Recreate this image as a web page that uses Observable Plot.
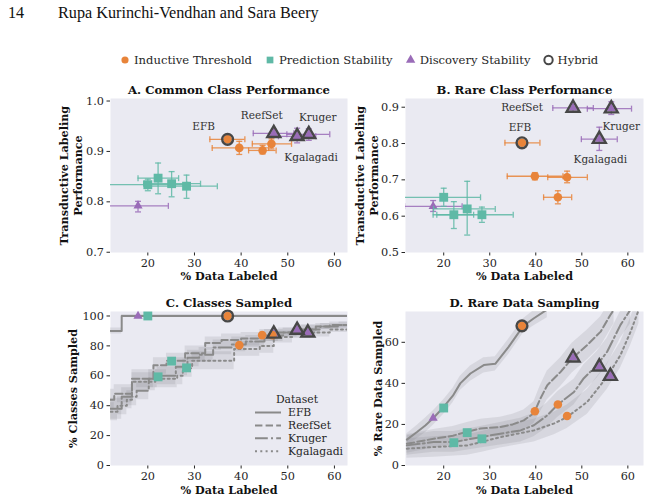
<!DOCTYPE html>
<html><head><meta charset="utf-8">
<script src="https://cdn.jsdelivr.net/npm/d3@7"></script>
<script src="https://cdn.jsdelivr.net/npm/@observablehq/plot@0.6"></script>
<style>
body{margin:0;background:#fff;}
#root{position:relative;width:649px;height:500px;overflow:hidden;font-family:"DejaVu Serif",serif;background:#fff;}
.hdr{position:absolute;font-family:"Liberation Serif",serif;font-size:16.2px;color:#111;white-space:nowrap;}
</style></head><body><div id="root"></div>
<script>
// ---------- categories / labels ----------
const datasets = ["EFB", "ReefSet", "Kruger", "Kgalagadi"];
const methodNames = ["Inductive Threshold", "Prediction Stability", "Discovery Stability", "Hybrid"];
const hybridSymbols = ["circle", "triangle", "triangle", "triangle"];
const xTicks = [20, 30, 40, 50, 60];
const commonPerfTicks = [0.7, 0.8, 0.9, 1.0];
const rarePerfTicks = [0.5, 0.6, 0.7, 0.8, 0.9];
const classTicks = [0, 20, 40, 60, 80, 100];
const rareDataTicks = [0, 20, 40, 60];

// ---------- A. Common class performance (order: EFB, ReefSet, Kruger, Kgalagadi) ----------
const aITx = [37.1, 39.6, 44.6, 46.5], aITxlo = [33.3, 33.8, 41.6, 42.4], aITxhi = [40.8, 45.9, 47.5, 50.8];
const aITy = [0.924, 0.907, 0.902, 0.915], aITylo = [0.918, 0.894, 0.895, 0.905], aITyhi = [0.930, 0.920, 0.912, 0.925];
const aPSx = [20.0, 25.1, 22.2, 28.3], aPSxlo = [10.0, 19.1, 17.9, 19.5], aPSxhi = [28.5, 31.3, 26.6, 34.9];
const aPSy = [0.834, 0.836, 0.847, 0.831], aPSylo = [0.822, 0.810, 0.816, 0.807], aPSyhi = [0.845, 0.860, 0.877, 0.853];
const aDSx = [17.9, 47.0, 54.5, 52.0], aDSxlo = [11.5, 42.6, 49.8, 48.0], aDSxhi = [24.4, 51.3, 59.0, 56.0];
const aDSy = [0.792, 0.936, 0.934, 0.930], aDSylo = [0.780, 0.928, 0.922, 0.917], aDSyhi = [0.801, 0.944, 0.945, 0.946];
const aHx = [37.1, 47.0, 54.5, 52.0], aHy = [0.924, 0.936, 0.934, 0.930];

// ---------- B. Rare class performance ----------
const bITx = [37.0, 39.8, 44.8, 46.8], bITxlo = [33.3, 33.8, 41.7, 42.6], bITxhi = [40.9, 45.9, 47.8, 51.2];
const bITy = [0.802, 0.710, 0.652, 0.707], bITylo = [0.795, 0.700, 0.634, 0.692], bITyhi = [0.809, 0.720, 0.670, 0.724];
const bPSx = [20.0, 25.1, 22.2, 28.3], bPSxlo = [10.0, 17.8, 18.5, 17.7], bPSxhi = [28.0, 31.2, 26.5, 35.1];
const bPSy = [0.652, 0.620, 0.604, 0.604], bPSylo = [0.627, 0.548, 0.566, 0.583], bPSyhi = [0.677, 0.696, 0.640, 0.625];
const bDSx = [17.7, 48.1, 56.4, 53.8], bDSxlo = [11.5, 43.7, 51.2, 49.9], bDSxhi = [24.0, 52.5, 60.8, 57.7];
const bDSy = [0.627, 0.898, 0.896, 0.812], bDSylo = [0.613, 0.888, 0.880, 0.781], bDSyhi = [0.643, 0.908, 0.915, 0.845];
const bHx = [37.0, 48.1, 56.4, 53.8], bHy = [0.802, 0.898, 0.896, 0.812];

// ---------- C. Classes sampled (step curves + bands) ----------
const cEFBx = [12, 14.4, 63], cEFBy = [90, 100, 100], cEFBlo = [88, 99, 99], cEFBhi = [92, 101, 101];
const cReefx = [12, 12.8, 16.6, 21.2, 24, 28, 32.3, 35.8, 40, 44, 48, 52, 56, 59, 63];
const cReefy = [44, 48, 58, 67, 70, 75, 82, 84, 85, 87, 89, 91, 93, 94, 95];
const cReeflo = [37, 42, 52, 61, 64, 69, 77, 79, 80, 83, 86, 88, 91, 92, 93];
const cReefhi = [51, 54, 64, 72, 75, 80, 86, 88, 89, 91, 92, 94, 95, 96, 97];
const cKrux = [12, 14.4, 17.6, 20.2, 22, 26, 28.5, 31, 34, 38, 41, 45, 49, 53, 57, 61, 63];
const cKruy = [38, 46, 50, 58, 60, 66, 72, 74, 79, 81, 83, 87, 89, 91, 93, 94, 94];
const cKrulo = [31, 40, 44, 52, 54, 60, 66, 69, 74, 76, 79, 83, 86, 88, 91, 92, 92];
const cKruhi = [45, 52, 56, 64, 66, 72, 77, 79, 84, 86, 87, 91, 92, 94, 95, 96, 96];
const cKgax = [12, 13.5, 15.5, 16.6, 21.6, 26.3, 27.5, 29.5, 37.2, 38.5, 44, 47, 51, 55, 59, 63];
const cKgay = [36, 40, 44, 56, 58, 60, 65, 70, 70, 78, 80, 86, 88, 89, 91, 93];
const cKgalo = [30, 34, 38, 50, 52, 54, 59, 64, 64, 73, 75, 82, 85, 86, 89, 91];
const cKgahi = [42, 46, 50, 62, 64, 66, 71, 76, 76, 83, 85, 90, 91, 92, 93, 95];
const cITx = [37.1, 39.6, 44.5, 46.7], cITy = [100, 80.5, 87.2, 87.2];
const cPSx = [20.0, 25.1, 22.2, 28.3], cPSy = [100, 69.8, 59.3, 65.3];
const cDSx = [17.9, 47.0, 54.3, 52.0], cDSy = [100, 88.0, 88.8, 90.6];
const cHx = [37.1, 47.0, 54.3, 52.0], cHy = [100, 88.0, 88.8, 90.6];

// ---------- D. Rare data sampling (curves + bands) ----------
const dEFBx = [12, 14.2, 16, 17.7, 20, 22, 23.6, 25.8, 28.7, 31.2, 34.1, 37.3, 39.6, 42.5];
const dEFBy = [12.6, 16.3, 19.5, 23, 28.5, 34, 40, 44.8, 48.9, 49.5, 57.8, 68, 71.7, 76];
const dEFBlo = [9.5, 13, 16, 19.5, 25, 30.5, 36.5, 41, 45, 46, 54, 64.5, 68, 72];
const dEFBhi = [15.5, 19.5, 23, 26.5, 32, 37.5, 43.5, 48.5, 52.5, 53, 61.5, 71.5, 75.5, 80];
const dReefx = [12, 17.8, 22, 25.1, 28, 32.3, 35, 37.4, 39.6, 41, 42.5, 45.4, 47.9, 51.2, 54.1, 56.2, 57];
const dReefy = [10.6, 13, 14.5, 16.5, 18, 18.7, 20, 22, 25.5, 32.6, 39.1, 45.6, 52.2, 58.7, 65.2, 73.3, 76];
const dReeflo = [6, 8.5, 10, 12, 13.5, 14, 15, 17, 20.5, 26, 32, 38.5, 45, 51.5, 58, 66, 69];
const dReefhi = [15, 17.5, 19, 21, 22.5, 23.5, 25, 27, 31, 39, 46, 52.5, 59.5, 66, 72.5, 80, 83];
const dKrux = [12, 17.8, 22.2, 28, 32.3, 36.7, 39.6, 42.5, 44.8, 48.3, 50.4, 53.3, 55.5, 58.4, 60.6];
const dKruy = [9.8, 11.4, 11.4, 13.8, 15.5, 17.1, 19.6, 24.4, 29.7, 35.8, 42.4, 48.9, 55.4, 68.5, 76];
const dKrulo = [5, 6.5, 6.5, 8.5, 10, 11.5, 14, 18.5, 23.5, 29.5, 36, 42.5, 49, 62, 69];
const dKruhi = [14.5, 16.5, 16.5, 19, 21, 23, 25.5, 30.5, 36, 42, 49, 55.5, 62, 75, 83];
const dKgax = [12, 17.8, 25.1, 28.3, 32.3, 39.6, 44, 46.8, 51.2, 55.5, 58.4, 60.6, 62.4];
const dKgay = [8.2, 9, 9.8, 11.5, 13.8, 17.1, 20.5, 23.6, 31, 43.2, 53.8, 65.2, 76];
const dKgalo = [3.5, 4, 5, 6.5, 8.5, 11.5, 15, 18, 25, 37, 47.5, 58.5, 69];
const dKgahi = [13, 14, 15, 16.5, 19, 22.5, 26, 29.5, 37, 49.5, 60, 72, 83];
const dITx = [37.0, 39.8, 44.8, 46.8], dITy = [68, 26.4, 29.7, 24.1];
const dPSx = [20.0, 25.1, 22.2, 28.3], dPSy = [28, 16, 11.1, 13];
const dDSx = [17.7, 48.1, 56.2, 53.8], dDSy = [23.1, 52.5, 43.5, 48.1];
const dHx = [37.0, 48.1, 56.2, 53.8], dHy = [68, 52.5, 43.5, 48.1];

// ---------- styling ----------
const FONT = "DejaVu Serif";
const BG = "#eaeaf2";
const INK = "#262626";
const LINE = "#8a8a8a";
const colors = {"Inductive Threshold": "#e8843a", "Prediction Stability": "#5fb9a6", "Discovery Stability": "#9a6cb8", "Hybrid": "#474747"};
const symbolOf = {"Inductive Threshold": "circle", "Prediction Stability": "square", "Discovery Stability": "triangle"};
const radiusOf = {"Inductive Threshold": 4.3, "Prediction Stability": 5.0, "Discovery Stability": 3.4};
const dashes = {EFB: null, ReefSet: "7.4,3.2", Kruger: "12.8,3.2,2,3.2", Kgalagadi: "2,3.3"};

const vbar = {draw(ctx, size) { const r = Math.sqrt(size / Math.PI); ctx.moveTo(0, -r); ctx.lineTo(0, r); }};
const hbar = {draw(ctx, size) { const r = Math.sqrt(size / Math.PI); ctx.moveTo(-r, 0); ctx.lineTo(r, 0); }};

const zipRows = (xs, ys, more = {}) => datasets.map((d, i) => {
  const row = {dataset: d, x: xs[i], y: ys[i]};
  for (const k in more) row[k] = more[k][i];
  return row;
});
const curveRows = (xs, ys, lo, hi) => xs.map((x, i) => ({x, y: ys[i], lo: lo[i], hi: hi[i]}));

function errMarks(rows, color) {
  const o = {stroke: color, strokeWidth: 1.3, strokeOpacity: 0.85, clip: true};
  return [
    Plot.ruleY(rows, {y: "y", x1: "xlo", x2: "xhi", ...o}),
    Plot.ruleX(rows, {x: "x", y1: "ylo", y2: "yhi", ...o}),
    Plot.dot(rows, {x: "xlo", y: "y", symbol: vbar, r: 3, fill: "none", ...o}),
    Plot.dot(rows, {x: "xhi", y: "y", symbol: vbar, r: 3, fill: "none", ...o}),
    Plot.dot(rows, {x: "x", y: "ylo", symbol: hbar, r: 3, fill: "none", ...o}),
    Plot.dot(rows, {x: "x", y: "yhi", symbol: hbar, r: 3, fill: "none", ...o})
  ];
}

function panel(cfg) {
  const marks = [Plot.frame({fill: BG, stroke: "none"})];
  if (cfg.curves) {
    for (const c of cfg.curves)
      marks.push(Plot.areaY(c.rows, {x: "x", y1: "lo", y2: "hi", curve: cfg.curve, fill: "#7a7a80", fillOpacity: 0.17, clip: true}));
    for (const c of cfg.curves)
      marks.push(Plot.line(c.rows, {x: "x", y: "y", curve: cfg.curve, stroke: LINE, strokeWidth: 2, strokeDasharray: dashes[c.name] || undefined, clip: true}));
  }
  for (const m of cfg.methods) {
    if (m.err) marks.push(...errMarks(m.rows, colors[m.name]));
    marks.push(Plot.dot(m.rows, {x: "x", y: "y", symbol: symbolOf[m.name], r: radiusOf[m.name], fill: colors[m.name], stroke: "none"}));
  }
  const H = cfg.hybrid;
  marks.push(Plot.dot(H, {filter: d => d.symbol === "circle", x: "x", y: "y", symbol: "circle", r: 5.4, fill: "none", stroke: colors.Hybrid, strokeWidth: 2.4}));
  marks.push(Plot.dot(H, {filter: d => d.symbol === "triangle", x: "x", y: "y", symbol: "triangle", r: 4.8, fill: "none", stroke: colors.Hybrid, strokeWidth: 2.4, strokeLinejoin: "miter"}));
  if (cfg.annot) {
    for (const d of datasets) {
      const [dx, dy] = cfg.annot[d];
      marks.push(Plot.text(H, {filter: r => r.dataset === d, x: "x", y: "y", text: "dataset", dx, dy, fontSize: 10.5, fill: "#333", textAnchor: "middle", lineAnchor: "middle"}));
    }
  }
  const lab = {textAnchor: "middle", lineAnchor: "middle", fontWeight: "bold", fill: "#111"};
  marks.push(Plot.text([cfg.title], {text: d => d, frameAnchor: "top", dy: -8, fontSize: 11.7, ...lab}));
  marks.push(Plot.text(["% Data Labeled"], {text: d => d, frameAnchor: "bottom", dy: cfg.xlabDy, fontSize: 11.2, ...lab}));
  marks.push(Plot.text([cfg.ylabel], {text: d => d, frameAnchor: "left", dx: cfg.ylabDx, rotate: -90, fontSize: 11.2, lineHeight: 1.2, ...lab}));

  const svg = Plot.plot({
    width: cfg.w, height: cfg.h,
    marginLeft: cfg.ml, marginRight: cfg.mr, marginTop: cfg.mt, marginBottom: cfg.mb,
    style: {fontFamily: FONT, fontSize: "11.3px", color: INK, background: "transparent", overflow: "visible"},
    x: {domain: cfg.xDomain, ticks: xTicks, tickSize: 3.5, tickPadding: 2.5, label: null},
    y: {domain: cfg.yDomain, ticks: cfg.yTicks, tickSize: 3.5, tickPadding: 3, label: null, tickFormat: cfg.yFormat},
    marks
  });
  svg.style.position = "absolute";
  svg.style.left = cfg.left + "px";
  svg.style.top = cfg.top + "px";
  document.getElementById("root").appendChild(svg);
  return svg;
}

const mkMethods = (it, ps, ds, err) => [
  {name: "Discovery Stability", rows: ds, err},
  {name: "Prediction Stability", rows: ps, err},
  {name: "Inductive Threshold", rows: it, err}
];
const hyb = (xs, ys) => zipRows(xs, ys, {symbol: hybridSymbols});

// header
const root = document.getElementById("root");
const pg = document.createElement("div"); pg.className = "hdr"; pg.style.left = "8px"; pg.style.top = "4px"; pg.textContent = "14"; root.appendChild(pg);
const au = document.createElement("div"); au.className = "hdr"; au.style.left = "58px"; au.style.top = "4px"; au.textContent = "Rupa Kurinchi-Vendhan and Sara Beery"; root.appendChild(au);

// A
panel({
  left: 0, top: 80, w: 355, h: 210, ml: 110, mr: 8, mt: 18, mb: 38,
  xDomain: [12, 62.8], yDomain: [0.6995, 1.005], yTicks: commonPerfTicks, yFormat: d3.format(".1f"),
  title: "A. Common Class Performance", ylabel: "Transductive Labeling\nPerformance", ylabDx: -40, xlabDy: 23.5,
  methods: mkMethods(
    zipRows(aITx, aITy, {xlo: aITxlo, xhi: aITxhi, ylo: aITylo, yhi: aITyhi}),
    zipRows(aPSx, aPSy, {xlo: aPSxlo, xhi: aPSxhi, ylo: aPSylo, yhi: aPSyhi}),
    zipRows(aDSx, aDSy, {xlo: aDSxlo, xhi: aDSxhi, ylo: aDSylo, yhi: aDSyhi}), true),
  hybrid: hyb(aHx, aHy),
  annot: {EFB: [-24, -13], ReefSet: [-12, -18], Kruger: [9, -17], Kgalagadi: [14, 21]}
});
// B
panel({
  left: 345, top: 80, w: 304, h: 210, ml: 60, mr: 6, mt: 18, mb: 38,
  xDomain: [11.7, 63.4], yDomain: [0.5, 0.924], yTicks: rarePerfTicks, yFormat: d3.format(".1f"),
  title: "B. Rare Class Performance", ylabel: "Transductive Labeling\nPerformance", ylabDx: -39, xlabDy: 23.5,
  methods: mkMethods(
    zipRows(bITx, bITy, {xlo: bITxlo, xhi: bITxhi, ylo: bITylo, yhi: bITyhi}),
    zipRows(bPSx, bPSy, {xlo: bPSxlo, xhi: bPSxhi, ylo: bPSylo, yhi: bPSyhi}),
    zipRows(bDSx, bDSy, {xlo: bDSxlo, xhi: bDSxhi, ylo: bDSylo, yhi: bDSyhi}), true),
  hybrid: hyb(bHx, bHy),
  annot: {EFB: [-2, -15], ReefSet: [-51, 0], Kruger: [10, 18], Kgalagadi: [1, 20]}
});
// C
const svgC = panel({
  left: 0, top: 290, w: 355, h: 210, ml: 110, mr: 8, mt: 21, mb: 35,
  xDomain: [12, 62.8], yDomain: [0, 103], yTicks: classTicks, yFormat: d3.format("d"),
  title: "C. Classes Sampled", ylabel: "% Classes Sampled", ylabDx: -38, xlabDy: 24.5,
  curve: "step-after",
  curves: [
    {name: "EFB", rows: curveRows(cEFBx, cEFBy, cEFBlo, cEFBhi)},
    {name: "ReefSet", rows: curveRows(cReefx, cReefy, cReeflo, cReefhi)},
    {name: "Kruger", rows: curveRows(cKrux, cKruy, cKrulo, cKruhi)},
    {name: "Kgalagadi", rows: curveRows(cKgax, cKgay, cKgalo, cKgahi)}
  ],
  methods: mkMethods(zipRows(cITx, cITy), zipRows(cPSx, cPSy), zipRows(cDSx, cDSy), false),
  hybrid: hyb(cHx, cHy)
});
// D
panel({
  left: 345, top: 290, w: 304, h: 210, ml: 60, mr: 6, mt: 21, mb: 35,
  xDomain: [11.7, 63.4], yDomain: [0, 75], yTicks: rareDataTicks, yFormat: d3.format("d"),
  title: "D. Rare Data Sampling", ylabel: "% Rare Data Sampled", ylabDx: -28, xlabDy: 24.5,
  curve: "linear",
  curves: [
    {name: "EFB", rows: curveRows(dEFBx, dEFBy, dEFBlo, dEFBhi)},
    {name: "ReefSet", rows: curveRows(dReefx, dReefy, dReeflo, dReefhi)},
    {name: "Kruger", rows: curveRows(dKrux, dKruy, dKrulo, dKruhi)},
    {name: "Kgalagadi", rows: curveRows(dKgax, dKgay, dKgalo, dKgahi)}
  ],
  methods: mkMethods(zipRows(dITx, dITy), zipRows(dPSx, dPSy), zipRows(dDSx, dDSy), false),
  hybrid: hyb(dHx, dHy)
});

// Dataset legend inside panel C
{
  const g = d3.select(svgC).append("g").attr("font-family", FONT).attr("font-size", 10.8).attr("fill", INK).attr("text-anchor", "start");
  g.append("text").attr("x", 297).attr("y", 109).attr("text-anchor", "middle").attr("dominant-baseline", "central").text("Dataset");
  datasets.forEach((d, i) => {
    const y = 122.5 + i * 12.9;
    g.append("line").attr("x1", 255).attr("x2", 281).attr("y1", y).attr("y2", y)
      .attr("stroke", LINE).attr("stroke-width", 2).attr("stroke-dasharray", dashes[d]);
    g.append("text").attr("x", 288).attr("y", y).attr("text-anchor", "start").attr("dominant-baseline", "central").text(d);
  });
}

// Method legend at top (flowing layout)
{
  const svg = d3.select(root).append("svg").attr("width", 649).attr("height", 24)
    .style("position", "absolute").style("left", "0px").style("top", "48px");
  const shapes = [d3.symbolCircle, d3.symbolSquare, d3.symbolTriangle, d3.symbolCircle];
  const sizes = [40, 45, 38, 55];
  let x = 125;
  methodNames.forEach((m, i) => {
    const p = svg.append("path").attr("transform", `translate(${x},12)`).attr("d", d3.symbol(shapes[i], sizes[i])());
    if (m === "Hybrid") p.attr("fill", "none").attr("stroke", colors.Hybrid).attr("stroke-width", 2);
    else p.attr("fill", colors[m]);
    const t = svg.append("text").attr("x", x + 9).attr("y", 12).attr("dominant-baseline", "central")
      .attr("font-family", FONT).attr("font-size", 11.6).attr("fill", INK).text(m);
    x += 9 + t.node().getComputedTextLength() + 18;
  });
}
</script></body></html>
